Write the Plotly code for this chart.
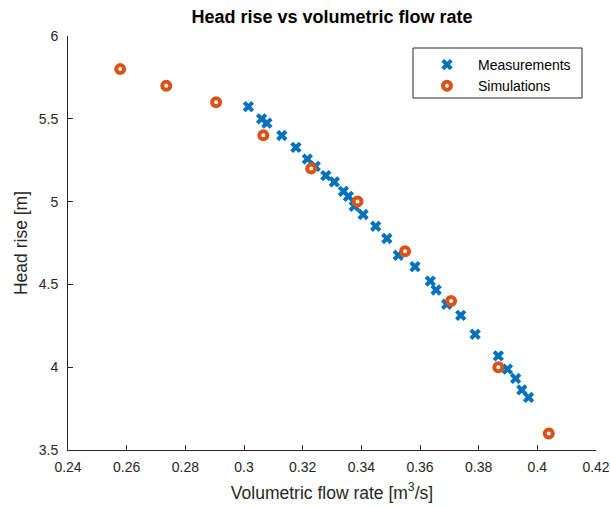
import plotly.graph_objects as go

# Measurements (blue crosses)
meas_q = [0.3015, 0.3060, 0.3078, 0.3129, 0.3177, 0.3216, 0.3243, 0.3279, 0.3308,
          0.3339, 0.3356, 0.3376, 0.3406, 0.3449, 0.3487, 0.3526, 0.3583, 0.3635,
          0.3655, 0.3691, 0.3739, 0.3788, 0.3867, 0.3898, 0.3926, 0.3947, 0.3970]
meas_h = [5.574, 5.500, 5.474, 5.399, 5.327, 5.257, 5.213, 5.157, 5.119,
          5.062, 5.032, 4.972, 4.922, 4.851, 4.777, 4.676, 4.607, 4.520,
          4.466, 4.380, 4.313, 4.199, 4.068, 3.988, 3.932, 3.863, 3.818]

# Simulations (orange rings)
sim_q = [0.2578, 0.2735, 0.2905, 0.3066, 0.3229, 0.3387, 0.3549, 0.3706, 0.3867, 0.4039]
sim_h = [5.80, 5.70, 5.60, 5.40, 5.20, 5.00, 4.70, 4.40, 4.00, 3.60]

x_ticks = [0.24, 0.26, 0.28, 0.30, 0.32, 0.34, 0.36, 0.38, 0.40, 0.42]
x_ticklabels = ["0.24", "0.26", "0.28", "0.3", "0.32", "0.34", "0.36", "0.38", "0.4", "0.42"]
y_ticks = [3.5, 4, 4.5, 5, 5.5, 6]
y_ticklabels = ["3.5", "4", "4.5", "5", "5.5", "6"]

BLUE = "#0072BD"
ORANGE = "#D95319"
AX = "#262626"
FONT = "Liberation Sans, Arial, sans-serif"

W, H = 610, 507
L, R, T, B = 68, 14, 36, 57
PW, PH = W - L - R, H - T - B


def px_x(p):
    return (p - L) / PW


def px_y(p):
    return (H - B - p) / PH


fig = go.Figure()
fig.add_trace(go.Scatter(
    x=meas_q, y=meas_h, mode="markers", name="Measurements",
    marker=dict(symbol="x", size=10, color=BLUE, line=dict(width=0)),
))
fig.add_trace(go.Scatter(
    x=sim_q, y=sim_h, mode="markers", name="Simulations",
    marker=dict(symbol="circle", size=8, color="white",
                line=dict(color=ORANGE, width=4)),
))

# legend frame
fig.add_shape(type="rect", xref="paper", yref="paper",
              x0=px_x(413), x1=px_x(582), y0=px_y(98), y1=px_y(48),
              line=dict(color=AX, width=1), fillcolor="white", layer="above")

fig.update_layout(
    width=W, height=H,
    margin=dict(l=L, r=R, t=T, b=B, autoexpand=False),
    paper_bgcolor="white", plot_bgcolor="white",
    font=dict(family=FONT, size=14, color=AX),
    title=dict(text="<b>Head rise vs volumetric flow rate</b>",
               x=(L + W - R) / 2 / W, xanchor="center",
               y=1 - 17 / H, yanchor="middle",
               font=dict(family=FONT, size=18, color="black")),
    showlegend=True,
    legend=dict(x=px_x(416), xanchor="left", y=px_y(49), yanchor="top",
                bgcolor="rgba(0,0,0,0)", borderwidth=0,
                font=dict(family=FONT, size=14, color="black"),
                itemwidth=52, tracegroupgap=0),
)

fig.update_xaxes(
    range=[0.24, 0.42], tickvals=x_ticks, ticktext=x_ticklabels,
    ticks="inside", ticklen=5, tickwidth=1, tickcolor=AX,
    showline=True, linecolor=AX, linewidth=1, mirror=False,
    showgrid=False, zeroline=False, ticklabeloverflow="allow",
    automargin=False, ticklabelstandoff=4,
    tickfont=dict(family=FONT, size=14, color=AX),
    title=dict(text="Volumetric flow rate [m<sup>3</sup>/s]",
               font=dict(family=FONT, size=17.5, color=AX), standoff=12),
)
fig.update_yaxes(
    range=[3.5, 6], tickvals=y_ticks, ticktext=y_ticklabels,
    ticks="inside", ticklen=5, tickwidth=1, tickcolor=AX,
    showline=True, linecolor=AX, linewidth=1, mirror=False,
    showgrid=False, zeroline=False, ticklabeloverflow="allow",
    automargin=False, ticklabelstandoff=6,
    tickfont=dict(family=FONT, size=14, color=AX),
    title=dict(text="Head rise [m]",
               font=dict(family=FONT, size=17.5, color=AX), standoff=6),
)

fig.write_html("out.html")
